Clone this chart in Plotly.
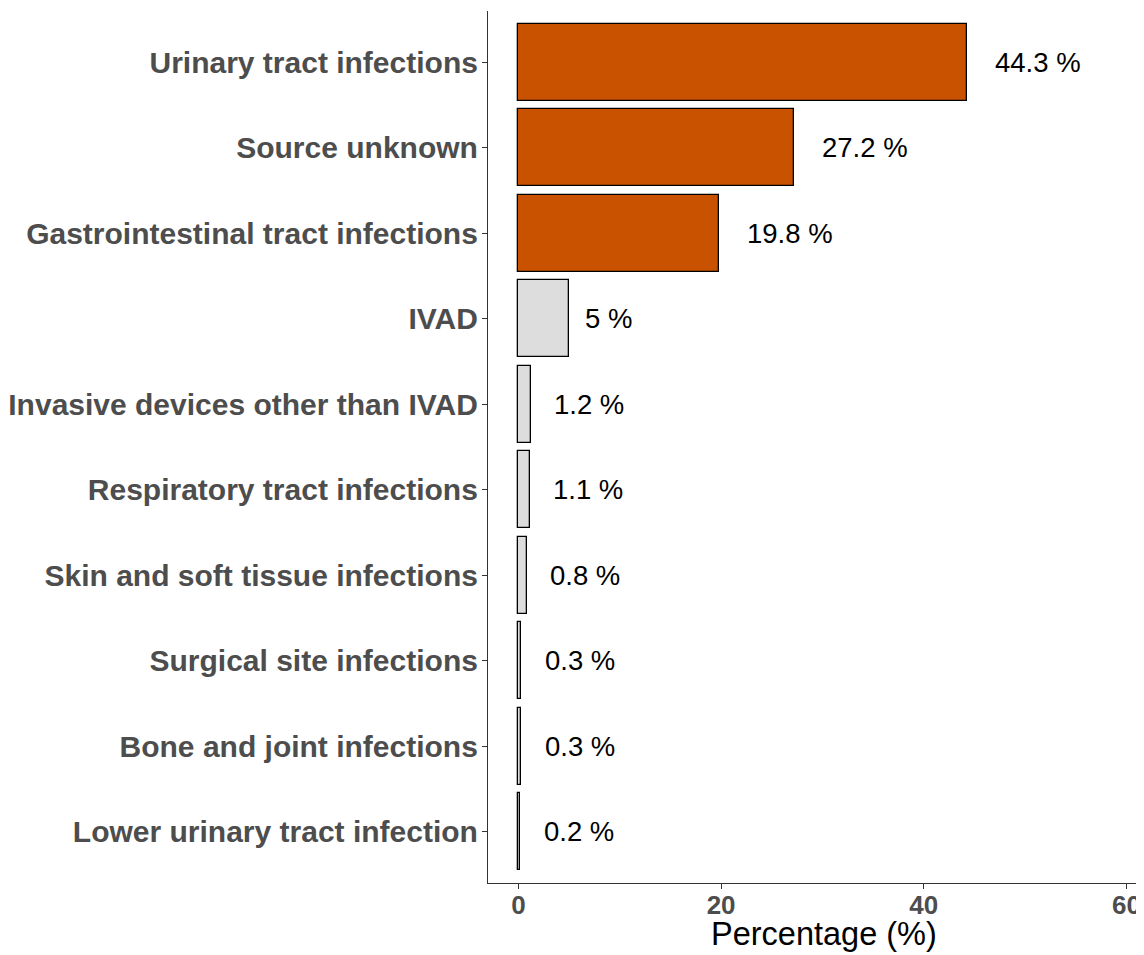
import plotly.graph_objects as go

categories = [
    "Urinary tract infections",
    "Source unknown",
    "Gastrointestinal tract infections",
    "IVAD",
    "Invasive devices other than IVAD",
    "Respiratory tract infections",
    "Skin and soft tissue infections",
    "Surgical site infections",
    "Bone and joint infections",
    "Lower urinary tract infection",
]
values = [44.3, 27.2, 19.8, 5, 1.2, 1.1, 0.8, 0.3, 0.3, 0.2]
labels = ["44.3 %", "27.2 %", "19.8 %", "5 %", "1.2 %", "1.1 %", "0.8 %", "0.3 %", "0.3 %", "0.2 %"]
highlight = [True, True, True, False, False, False, False, False, False, False]
x_ticks = [0, 20, 40, 60]

ORANGE = "#C85200"
GREY = "#DDDDDD"
FONT = "Liberation Sans"
LABEL_SIZE = 27.5

colors = [ORANGE if h else GREY for h in highlight]

fig = go.Figure()
fig.add_trace(go.Bar(
    x=values, y=categories, orientation="h", width=0.9,
    marker=dict(color=colors, line=dict(color="black", width=1.3)),
    hoverinfo="skip",
))

# approximate text width (Arial metrics) for hjust=-0.3 like placement
cw = {".": 0.278, " ": 0.278, "%": 0.889}
def text_w(s):
    return sum(cw.get(c, 0.556) for c in s) * LABEL_SIZE

for cat, v, lab in zip(categories, values, labels):
    fig.add_annotation(
        x=v, y=cat, xref="x", yref="y", text=lab, showarrow=False,
        xanchor="left", yanchor="middle", xshift=0.3 * text_w(lab),
        font=dict(family=FONT, size=LABEL_SIZE, color="black"),
    )

fig.add_annotation(
    x=0.512, y=0, xref="paper", yref="paper", text="Percentage (%)",
    showarrow=False, xanchor="center", yanchor="top", yshift=-31,
    font=dict(family=FONT, size=32.5, color="black"),
)

# page body has an 8px margin; size the figure so it ends at the window edge
OFF = 8
W, H = 1144 - OFF, 955 - OFF
ml, mt, mb = 486 - OFF, 11 - OFF, 72
px_per_unit = 203.3 / 20
xmax = (W - ml) / px_per_unit - 3

fig.update_layout(
    width=W, height=H,
    margin=dict(l=ml, r=0, t=mt, b=mb, pad=0),
    plot_bgcolor="white", paper_bgcolor="white",
    showlegend=False, bargap=0,
    font=dict(family=FONT),
    xaxis=dict(
        range=[-3, xmax], tickvals=x_ticks, ticktext=[str(t) for t in x_ticks],
        showgrid=False, zeroline=False, showline=True, linecolor="#333333", linewidth=1.2,
        ticks="outside", ticklen=5, tickcolor="#333333", tickwidth=1.2,
        ticklabelstandoff=-6,
        tickfont=dict(family=FONT, size=26, color="#4D4D4D", weight="bold"),
    ),
    yaxis=dict(
        categoryorder="array", categoryarray=categories, range=[9.6, -0.6],
        showgrid=False, zeroline=False, showline=True, linecolor="#333333", linewidth=1.2,
        ticks="outside", ticklen=5, tickcolor="#333333", tickwidth=1.2,
        ticklabelstandoff=-2,
        tickfont=dict(family=FONT, size=30, color="#4D4D4D", weight="bold"),
    ),
)

fig.write_html("out.html")
